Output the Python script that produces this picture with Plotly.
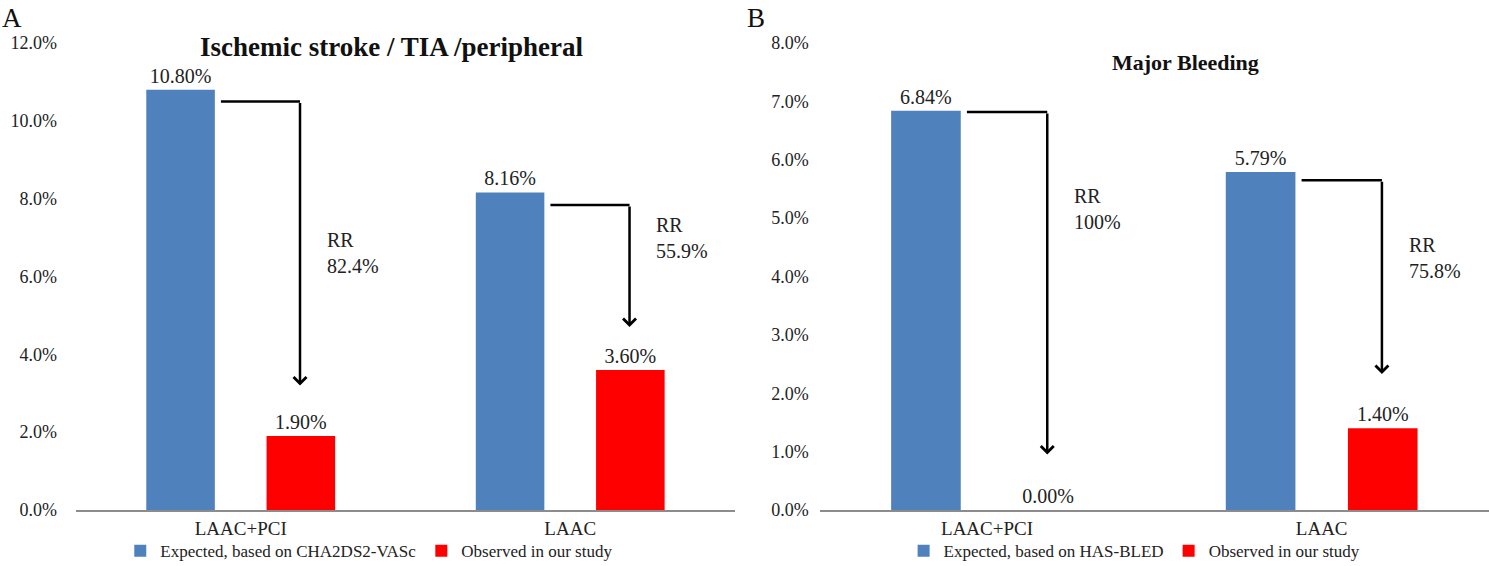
import plotly.graph_objects as go

# panel A: ischemic stroke / TIA / peripheral embolism
cats = ["LAAC+PCI", "LAAC"]
stroke_expected = [10.80, 8.16]
stroke_observed = [1.90, 3.60]
stroke_rr = ["82.4%", "55.9%"]
stroke_ticks = [0, 2, 4, 6, 8, 10, 12]

# panel B: major bleeding
bleed_expected = [6.84, 5.79]
bleed_observed = [0.00, 1.40]
bleed_rr = ["100%", "75.8%"]
bleed_ticks = [0, 1, 2, 3, 4, 5, 6, 7, 8]

# arrow levels (start just under the expected bar, stop above the observed label)
stroke_arrow_top = [10.5, 7.84]
stroke_arrow_tip = [3.2, 4.7]
bleed_arrow_top = [6.82, 5.65]
bleed_arrow_tip = [0.95, 2.33]
# vertical position of the "RR xx%" notes
stroke_rr_y = [6.6, 7.0]
bleed_rr_y = [5.15, 4.32]

BLUE = "#4F81BD"
RED = "#FF0000"
SERIF = "Liberation Serif"
INK = "#222222"

fig = go.Figure()

fig.add_trace(go.Bar(x=cats, y=stroke_expected, name="Expected, based on CHA2DS2-VASc",
                     marker_color=BLUE, xaxis="x", yaxis="y", legend="legend"))
fig.add_trace(go.Bar(x=cats, y=stroke_observed, name="Observed in our study",
                     marker_color=RED, xaxis="x", yaxis="y", legend="legend"))
fig.add_trace(go.Bar(x=cats, y=bleed_expected, name="Expected, based on HAS-BLED",
                     marker_color=BLUE, xaxis="x2", yaxis="y2", legend="legend2"))
fig.add_trace(go.Bar(x=cats, y=bleed_observed, name="Observed in our study",
                     marker_color=RED, xaxis="x2", yaxis="y2", legend="legend2"))

fig.update_traces(texttemplate="%{y:.2f}%", textposition="outside", cliponaxis=False,
                  textfont=dict(family=SERIF, size=20, color=INK), marker_line_width=0)

# elbow arrows: horizontal segment as a shape, vertical part as an annotation arrow
off_start = -0.06   # just right of the blue bar
off_red = 0.18      # centre of the red bar
panels = [("x", "y", stroke_arrow_top, stroke_arrow_tip, stroke_rr, stroke_rr_y),
          ("x2", "y2", bleed_arrow_top, bleed_arrow_tip, bleed_rr, bleed_rr_y)]
for xr, yr, tops, tips, rrs, rr_y in panels:
    for i in range(len(cats)):
        fig.add_shape(type="line", xref=xr, yref=yr,
                      x0=i + off_start, x1=i + off_red, y0=tops[i], y1=tops[i],
                      line=dict(color="black", width=2.5))
        fig.add_annotation(xref=xr, yref=yr, x=i + off_red, y=tips[i],
                           axref=xr, ayref=yr, ax=i + off_red, ay=tops[i],
                           showarrow=True, arrowhead=4, arrowsize=1, arrowwidth=2.5,
                           arrowcolor="black", text="")
        fig.add_annotation(xref=xr, yref=yr, x=i + 0.255, y=rr_y[i],
                           text="RR<br>" + rrs[i], showarrow=False, align="left",
                           xanchor="left", font=dict(family=SERIF, size=20, color=INK))

fig.update_layout(
    width=1489, height=566,
    margin=dict(l=0, r=0, t=0, b=0, autoexpand=False),
    paper_bgcolor="white", plot_bgcolor="white",
    barmode="group", bargap=0.27, bargroupgap=0.43,
    font=dict(family=SERIF, color=INK),
    xaxis=dict(domain=[0.051, 0.4936], anchor="y", showline=True, linecolor="#8c8c8c",
               linewidth=1.5, showgrid=False, ticks="", tickfont=dict(family=SERIF, size=19),
               ticklabelstandoff=0, automargin=False),
    yaxis=dict(domain=[0.099, 0.924], anchor="x", range=[0, 12], tickvals=stroke_ticks,
               ticktext=[f"{v:.1f}%" for v in stroke_ticks], showgrid=False, zeroline=False,
               showline=False, tickfont=dict(family=SERIF, size=18), ticklabelstandoff=18,
               automargin=False),
    xaxis2=dict(domain=[0.5505, 1.0], anchor="y2", showline=True, linecolor="#8c8c8c",
                linewidth=1.5, showgrid=False, ticks="", tickfont=dict(family=SERIF, size=19),
                ticklabelstandoff=0, automargin=False),
    yaxis2=dict(domain=[0.099, 0.924], anchor="x2", range=[0, 8], tickvals=bleed_ticks,
                ticktext=[f"{v:.1f}%" for v in bleed_ticks], showgrid=False, zeroline=False,
                showline=False, tickfont=dict(family=SERIF, size=18), ticklabelstandoff=10,
                automargin=False),
    legend=dict(orientation="h", x=0.248, xanchor="center", y=0.026, yanchor="middle",
                bgcolor="rgba(0,0,0,0)", font=dict(family=SERIF, size=17), itemwidth=30),
    legend2=dict(orientation="h", x=0.762, xanchor="center", y=0.026, yanchor="middle",
                 bgcolor="rgba(0,0,0,0)", font=dict(family=SERIF, size=17), itemwidth=30),
    showlegend=True,
)

# panel letters and titles
fig.add_annotation(xref="paper", yref="paper", x=0.0, y=0.998, xanchor="left", yanchor="top",
                   text="A", showarrow=False, font=dict(family=SERIF, size=27, color="#111"))
fig.add_annotation(xref="paper", yref="paper", x=0.5, y=0.998, xanchor="left", yanchor="top",
                   text="B", showarrow=False, font=dict(family=SERIF, size=27, color="#111"))
fig.add_annotation(xref="paper", yref="paper", x=0.263, y=0.917, xanchor="center", yanchor="middle",
                   text="<b>Ischemic stroke / TIA /peripheral</b>", showarrow=False,
                   font=dict(family=SERIF, size=27, color="#111"))
fig.add_annotation(xref="paper", yref="paper", x=0.796, y=0.890, xanchor="center", yanchor="middle",
                   text="<b>Major Bleeding</b>", showarrow=False,
                   font=dict(family=SERIF, size=22, color="#111"))

fig.write_html("out.html", config={"displayModeBar": False},
               post_script="document.body.style.margin='0';")
